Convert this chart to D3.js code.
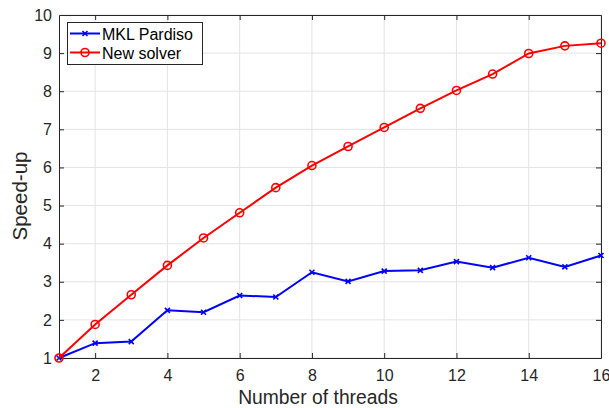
<!DOCTYPE html>
<html>
<head>
<meta charset="utf-8">
<script src="https://cdn.jsdelivr.net/npm/d3@7"></script>
<style>
  body { margin: 0; background: #fff; }
  svg { display: block; font-family: "Liberation Sans", Arial, Helvetica, sans-serif; }
</style>
</head>
<body>
<div id="chart"></div>
<script>
var threads = [1, 2, 3, 4, 5, 6, 7, 8, 9, 10, 11, 12, 13, 14, 15, 16];
var mklPardiso = [1, 1.39, 1.43, 2.25, 2.20, 2.64, 2.60, 3.25, 3.01, 3.28, 3.30, 3.53, 3.37, 3.63, 3.39, 3.69];
var newSolver = [1, 1.88, 2.66, 3.43, 4.15, 4.81, 5.47, 6.05, 6.55, 7.05, 7.55, 8.02, 8.45, 8.99, 9.19, 9.26];
var xTicks = [2, 4, 6, 8, 10, 12, 14, 16];
var yTicks = [1, 2, 3, 4, 5, 6, 7, 8, 9, 10];

var W = 609, H = 408;
var margin = {top: 15, right: 8, bottom: 50, left: 59};
var width = W - margin.left - margin.right;
var height = H - margin.top - margin.bottom;
var axisColor = "#262626";

var svg = d3.select("#chart").append("svg")
    .attr("width", W)
    .attr("height", H);

var g = svg.append("g")
    .attr("transform", "translate(" + margin.left + "," + margin.top + ")");

var x = d3.scaleLinear().domain([1, 16]).range([0, width]);
var y = d3.scaleLinear().domain([1, 10]).range([height, 0]);

// grid
g.append("g").selectAll("line")
    .data(xTicks)
    .enter().append("line")
    .attr("x1", function(d) { return x(d); })
    .attr("x2", function(d) { return x(d); })
    .attr("y1", 0).attr("y2", height)
    .attr("stroke", "#e3e3e3").attr("stroke-width", 1);

g.append("g").selectAll("line")
    .data(yTicks)
    .enter().append("line")
    .attr("y1", function(d) { return y(d); })
    .attr("y2", function(d) { return y(d); })
    .attr("x1", 0).attr("x2", width)
    .attr("stroke", "#e3e3e3").attr("stroke-width", 1);

// axes, MATLAB style box with inward ticks
var tickLen = 5;
var xAxis = g.append("g")
    .attr("transform", "translate(0," + height + ")")
    .call(d3.axisBottom(x).tickValues(xTicks).tickSizeInner(-tickLen).tickSizeOuter(0).tickPadding(12));
var yAxis = g.append("g")
    .call(d3.axisLeft(y).tickValues(yTicks).tickSizeInner(-tickLen).tickSizeOuter(0).tickPadding(7));
var xTop = g.append("g")
    .call(d3.axisTop(x).tickValues(xTicks).tickSizeInner(-tickLen).tickSizeOuter(0).tickFormat(""));
var yRight = g.append("g")
    .attr("transform", "translate(" + width + ",0)")
    .call(d3.axisRight(y).tickValues(yTicks).tickSizeInner(-tickLen).tickSizeOuter(0).tickFormat(""));

[xAxis, yAxis, xTop, yRight].forEach(function(a) {
    a.selectAll("path").attr("stroke", axisColor).attr("stroke-width", 1);
    a.selectAll("line").attr("stroke", axisColor).attr("stroke-width", 1);
    a.selectAll("text").attr("fill", axisColor).attr("font-size", 16)
        .attr("font-family", "Liberation Sans, Arial, sans-serif");
});
// ticks at the domain edges sit on the frame
yAxis.selectAll(".tick").filter(function(d) { return d === 1 || d === 10; }).select("line").remove();
yRight.selectAll(".tick").filter(function(d) { return d === 1 || d === 10; }).select("line").remove();
xAxis.selectAll(".tick").filter(function(d) { return d === 16; }).select("line").remove();
xTop.selectAll(".tick").filter(function(d) { return d === 16; }).select("line").remove();

// axis labels
svg.append("text")
    .attr("x", 318)
    .attr("y", 404)
    .attr("text-anchor", "middle")
    .attr("font-size", 19.3)
    .attr("fill", axisColor)
    .text("Number of threads");

svg.append("text")
    .attr("transform", "translate(27,196) rotate(-90)")
    .attr("text-anchor", "middle")
    .attr("font-size", 20.5)
    .attr("fill", axisColor)
    .text("Speed-up");

var line = d3.line()
    .x(function(d, i) { return x(threads[i]); })
    .y(function(d) { return y(d); });

function xMark(sel) {
    sel.append("path")
        .attr("d", "M-2.5,-2.5L2.5,2.5M-2.5,2.5L2.5,-2.5")
        .attr("stroke", "#0000ff").attr("stroke-width", 1.6).attr("fill", "none");
}
function oMark(sel) {
    sel.append("circle")
        .attr("r", 4)
        .attr("stroke", "#ff0000").attr("stroke-width", 1.6).attr("fill", "none");
}

// MKL Pardiso
g.append("path")
    .datum(mklPardiso)
    .attr("d", line)
    .attr("fill", "none").attr("stroke", "#0000ff").attr("stroke-width", 2);
g.append("g").selectAll("g")
    .data(mklPardiso)
    .enter().append("g")
    .attr("transform", function(d, i) { return "translate(" + x(threads[i]) + "," + y(d) + ")"; })
    .call(xMark);

// New solver
g.append("path")
    .datum(newSolver)
    .attr("d", line)
    .attr("fill", "none").attr("stroke", "#ff0000").attr("stroke-width", 2);
g.append("g").selectAll("g")
    .data(newSolver)
    .enter().append("g")
    .attr("transform", function(d, i) { return "translate(" + x(threads[i]) + "," + y(d) + ")"; })
    .call(oMark);

// legend
var legend = svg.append("g").attr("transform", "translate(67,22)");
legend.append("rect")
    .attr("x", 0.5).attr("y", 0.5)
    .attr("width", 135).attr("height", 42)
    .attr("fill", "#fff").attr("stroke", axisColor).attr("stroke-width", 1);

var legendItems = [
    {name: "MKL Pardiso", color: "#0000ff", mark: xMark},
    {name: "New solver", color: "#ff0000", mark: oMark}
];
legendItems.forEach(function(item, i) {
    var row = legend.append("g").attr("transform", "translate(0," + (11.5 + i * 19) + ")");
    row.append("line")
        .attr("x1", 3).attr("x2", 33).attr("y1", 0).attr("y2", 0)
        .attr("stroke", item.color).attr("stroke-width", 2);
    row.append("g").attr("transform", "translate(18,0)").call(item.mark);
    row.append("text")
        .attr("x", 35).attr("y", 6)
        .attr("font-size", 16)
        .attr("fill", "#000")
        .text(item.name);
});
</script>
</body>
</html>
